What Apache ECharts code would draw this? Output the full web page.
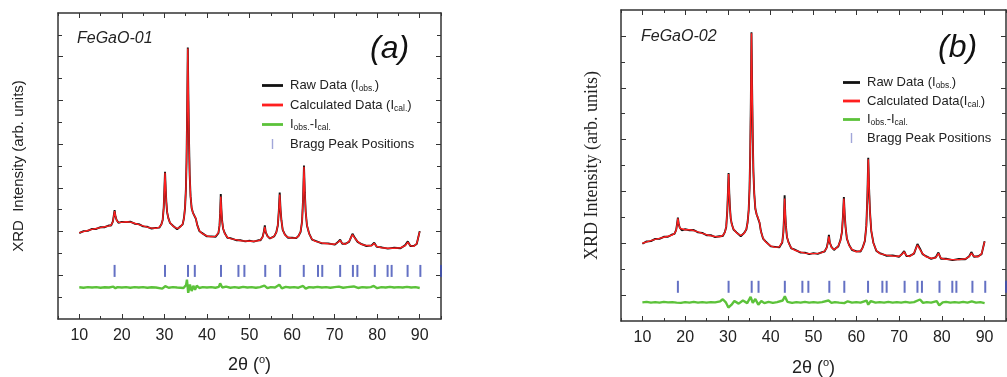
<!DOCTYPE html>
<html>
<head>
<meta charset="utf-8">
<script src="https://cdn.jsdelivr.net/npm/echarts@6/dist/echarts.min.js"></script>
<style>
  html, body { margin: 0; padding: 0; background: #fff; }
  #chart { width: 1007px; height: 377px; }
</style>
</head>
<body>
<div id="chart"></div>
<script>
// tick positions
const xMajor = [10, 20, 30, 40, 50, 60, 70, 80, 90];
const xMinor = [5, 15, 25, 35, 45, 55, 65, 75, 85, 95];
const yMajorA = [2, 4, 6, 8, 10, 12];
const yMinorA = [1, 3, 5, 7, 9, 11, 13];
const yMajorB = [1, 3, 5, 7, 9, 11];
const yMinorB = [2, 4, 6, 8, 10];

// Bragg peak positions (2theta) and the level they are drawn at
const braggPos = [18.3, 30.15, 35.55, 37.15, 43.3, 47.4, 48.8, 53.7, 57.2, 62.75, 66.1, 67.1,
  71.3, 74.3, 75.35, 79.45, 82.45, 83.4, 87.15, 90.15, 95.0];
const braggLevelA = 2.2;
const braggLevelB = 1.32;

// FeGaO-01 calculated
const calcA = [
  [10, 3.95], [11, 4.0], [12, 4.05], [13, 4.1], [14, 4.14], [15, 4.18], [16, 4.22], [17, 4.26],
  [17.5, 4.3], [17.9, 4.45], [18.1, 4.7], [18.3, 4.94], [18.5, 4.72], [18.75, 4.52], [19.2, 4.42],
  [20, 4.42], [21, 4.45], [22, 4.43], [23, 4.38], [24, 4.32], [25, 4.26], [26, 4.2], [27, 4.16],
  [28, 4.15], [28.8, 4.2], [29.3, 4.32], [29.6, 4.55], [29.85, 5.1], [30.0, 5.9], [30.15, 6.69],
  [30.3, 6.0], [30.45, 5.35], [30.65, 4.9], [30.9, 4.62], [31.3, 4.42], [32, 4.25], [33, 4.14],
  [33.8, 4.22], [34.3, 4.35], [34.6, 4.6], [34.85, 5.1], [35.05, 5.9], [35.2, 7.2], [35.35, 9.4],
  [35.5, 12.38], [35.65, 10.0], [35.8, 8.0], [35.95, 6.6], [36.15, 5.6], [36.4, 5.1], [36.7, 4.85],
  [36.95, 4.78], [37.15, 4.85], [37.4, 4.6], [37.7, 4.3], [38.2, 4.05], [38.8, 3.92], [40, 3.8],
  [41, 3.76], [42, 3.78], [42.3, 3.82], [42.7, 3.95], [42.95, 4.25], [43.1, 4.8], [43.25, 5.6],
  [43.4, 5.0], [43.55, 4.5], [43.8, 4.15], [44.2, 3.9], [44.8, 3.74], [45.5, 3.68], [47, 3.62],
  [48, 3.58], [49, 3.57], [50, 3.56], [51, 3.56], [52, 3.58], [52.6, 3.62], [53.1, 3.75], [53.4, 4.0],
  [53.6, 4.22], [53.8, 4.0], [54.2, 3.78], [54.8, 3.7], [55.3, 3.72], [55.8, 3.8], [56.3, 3.95],
  [56.65, 4.3], [56.9, 4.95], [57.1, 5.7], [57.3, 5.0], [57.5, 4.5], [57.8, 4.1], [58.3, 3.85],
  [59, 3.74], [60, 3.7], [61, 3.72], [61.5, 3.78], [62.0, 4.0], [62.35, 4.45], [62.6, 5.5],
  [62.8, 6.97], [63.0, 5.8], [63.2, 4.9], [63.5, 4.3], [64.0, 3.9], [64.7, 3.65], [65.5, 3.55],
  [67, 3.48], [68.5, 3.44], [70, 3.42], [70.8, 3.5], [71.3, 3.6], [71.8, 3.46], [72.5, 3.42],
  [73.4, 3.55], [74.2, 3.86], [74.8, 3.68], [75.4, 3.55], [76.2, 3.42], [77.5, 3.36], [78.7, 3.35],
  [79.3, 3.46], [79.9, 3.32], [81, 3.26], [82.5, 3.24], [84, 3.24], [85.5, 3.26], [86.6, 3.36],
  [87.2, 3.52], [87.8, 3.36], [88.6, 3.32], [89.3, 3.45], [90, 4.0]
];
// FeGaO-01 observed
const obsA = [
  [10, 3.93], [11, 4.02], [12, 4.03], [13, 4.12], [14, 4.12], [15, 4.2], [16, 4.2], [17, 4.28],
  [17.5, 4.28], [17.9, 4.47], [18.1, 4.72], [18.3, 4.98], [18.5, 4.7], [18.75, 4.54], [19.2, 4.4],
  [20, 4.44], [21, 4.43], [22, 4.45], [23, 4.36], [24, 4.34], [25, 4.24], [26, 4.22], [27, 4.14],
  [28, 4.17], [28.8, 4.18], [29.3, 4.34], [29.6, 4.53], [29.85, 5.12], [30.0, 5.92], [30.15, 6.73],
  [30.3, 5.98], [30.45, 5.37], [30.65, 4.88], [30.9, 4.64], [31.3, 4.4], [32, 4.27], [33, 4.11],
  [33.8, 4.24], [34.3, 4.33], [34.6, 4.62], [34.85, 5.08], [35.05, 5.92], [35.2, 7.18], [35.35, 9.42],
  [35.5, 12.42], [35.65, 9.98], [35.8, 8.02], [35.95, 6.58], [36.15, 5.62], [36.4, 5.08], [36.7, 4.87],
  [36.95, 4.82], [37.15, 4.9], [37.4, 4.58], [37.7, 4.32], [38.2, 4.03], [38.8, 3.94], [40, 3.78],
  [41, 3.78], [42, 3.76], [42.3, 3.84], [42.7, 3.93], [42.95, 4.27], [43.1, 4.82], [43.25, 5.72],
  [43.4, 4.98], [43.55, 4.52], [43.8, 4.13], [44.2, 3.92], [44.8, 3.72], [45.5, 3.7], [47, 3.6],
  [48, 3.6], [49, 3.55], [50, 3.58], [51, 3.54], [52, 3.6], [52.6, 3.6], [53.1, 3.77], [53.4, 4.02],
  [53.6, 4.28], [53.8, 3.98], [54.2, 3.8], [54.8, 3.68], [55.3, 3.74], [55.8, 3.78], [56.3, 3.97],
  [56.65, 4.28], [56.9, 4.97], [57.1, 5.78], [57.3, 4.98], [57.5, 4.52], [57.8, 4.08], [58.3, 3.87],
  [59, 3.72], [60, 3.72], [61, 3.7], [61.5, 3.8], [62.0, 3.98], [62.35, 4.47], [62.6, 5.52],
  [62.8, 7.02], [63.0, 5.78], [63.2, 4.92], [63.5, 4.28], [64.0, 3.92], [64.7, 3.63], [65.5, 3.57],
  [67, 3.46], [68.5, 3.46], [70, 3.4], [70.8, 3.52], [71.3, 3.63], [71.8, 3.44], [72.5, 3.44],
  [73.4, 3.53], [74.2, 3.9], [74.8, 3.7], [75.4, 3.53], [76.2, 3.44], [77.5, 3.34], [78.7, 3.37],
  [79.3, 3.49], [79.9, 3.3], [81, 3.28], [82.5, 3.22], [84, 3.26], [85.5, 3.24], [86.6, 3.38],
  [87.2, 3.55], [87.8, 3.34], [88.6, 3.34], [89.3, 3.43], [90, 4.02]
];
// FeGaO-01 difference
const diffA = [
  [10, 1.45], [11, 1.43], [12, 1.46], [13, 1.44], [14, 1.46], [15, 1.43], [16, 1.45], [17, 1.44],
  [18, 1.48], [18.5, 1.41], [19, 1.46], [20, 1.44], [21, 1.46], [22, 1.43], [23, 1.46], [24, 1.44],
  [25, 1.46], [26, 1.43], [27, 1.45], [28, 1.44], [29.5, 1.39], [30.2, 1.5], [31, 1.43], [32, 1.46],
  [33, 1.44], [34.5, 1.42], [35.1, 1.56], [35.3, 1.8], [35.6, 1.2], [36.0, 1.58], [36.4, 1.28],
  [36.8, 1.52], [37.2, 1.34], [37.6, 1.52], [38.2, 1.42], [39, 1.46], [40, 1.44], [41, 1.46],
  [42, 1.43], [42.8, 1.47], [43.1, 1.63], [43.6, 1.44], [44.5, 1.48], [45.5, 1.43], [46.5, 1.46],
  [47.5, 1.43], [48.5, 1.47], [49.5, 1.44], [50.5, 1.46], [51.5, 1.43], [52.5, 1.46], [53.5, 1.53],
  [54.2, 1.41], [55, 1.46], [56, 1.44], [57.0, 1.57], [57.6, 1.4], [58.5, 1.47], [59.5, 1.44],
  [60.5, 1.46], [61.5, 1.43], [62.6, 1.51], [63.2, 1.39], [64, 1.46], [65, 1.44], [66, 1.47],
  [67, 1.44], [68, 1.46], [69, 1.43], [70, 1.46], [71, 1.48], [72, 1.43], [73, 1.46], [74.5, 1.49],
  [75.5, 1.42], [76.5, 1.46], [77.5, 1.44], [78.5, 1.46], [79.2, 1.51], [80, 1.41], [81, 1.46],
  [82, 1.44], [83, 1.47], [84, 1.44], [85, 1.46], [86, 1.44], [87, 1.47], [88, 1.44], [89, 1.46], [90, 1.42]
];

// FeGaO-02 calculated
const calcB = [
  [10, 3.0], [11, 3.05], [12, 3.1], [13, 3.15], [14, 3.19], [15, 3.23], [16, 3.27], [17, 3.32],
  [17.5, 3.38], [17.9, 3.5], [18.1, 3.72], [18.3, 3.96], [18.5, 3.75], [18.75, 3.58], [19.2, 3.52],
  [20, 3.52], [21, 3.52], [22, 3.49], [23, 3.44], [24, 3.38], [25, 3.33], [26, 3.29], [27, 3.26],
  [28, 3.25], [28.8, 3.3], [29.3, 3.42], [29.6, 3.65], [29.85, 4.25], [30.0, 4.95], [30.15, 5.67],
  [30.3, 5.0], [30.45, 4.4], [30.65, 3.98], [30.9, 3.72], [31.3, 3.55], [32, 3.4], [33, 3.3],
  [33.8, 3.38], [34.3, 3.55], [34.6, 3.8], [34.85, 4.3], [35.05, 5.1], [35.2, 6.4], [35.35, 8.4],
  [35.5, 11.1], [35.65, 9.0], [35.8, 7.1], [35.95, 5.8], [36.15, 4.9], [36.4, 4.35], [36.7, 4.1],
  [36.95, 4.02], [37.15, 4.05], [37.4, 3.8], [37.7, 3.45], [38.2, 3.2], [38.8, 3.05], [40, 2.9],
  [41, 2.84], [42, 2.86], [42.3, 2.9], [42.7, 3.05], [42.95, 3.4], [43.1, 3.95], [43.25, 4.73],
  [43.4, 4.15], [43.55, 3.65], [43.8, 3.25], [44.2, 3.0], [44.8, 2.82], [45.5, 2.74], [47, 2.66],
  [48, 2.62], [49, 2.6], [50, 2.6], [51, 2.61], [52, 2.64], [52.6, 2.7], [53.1, 2.82], [53.4, 3.05],
  [53.6, 3.27], [53.8, 3.05], [54.2, 2.84], [54.8, 2.76], [55.3, 2.8], [55.8, 2.9], [56.3, 3.1],
  [56.65, 3.45], [56.9, 4.05], [57.1, 4.73], [57.3, 4.1], [57.5, 3.6], [57.8, 3.2], [58.3, 2.92],
  [59, 2.76], [60, 2.67], [61, 2.7], [61.5, 2.82], [62.0, 3.1], [62.35, 3.65], [62.6, 4.8],
  [62.8, 6.24], [63.0, 5.1], [63.2, 4.2], [63.5, 3.5], [64.0, 3.0], [64.7, 2.72], [65.5, 2.6],
  [67, 2.54], [68.5, 2.51], [70, 2.5], [70.7, 2.57], [71.2, 2.67], [71.7, 2.53], [72.5, 2.49],
  [73.5, 2.62], [74.3, 2.93], [74.9, 2.75], [75.5, 2.6], [76.3, 2.48], [77.5, 2.42], [78.6, 2.44],
  [79.2, 2.61], [79.8, 2.42], [81, 2.38], [82.5, 2.37], [84, 2.37], [85.5, 2.4], [86.4, 2.48],
  [86.9, 2.62], [87.5, 2.5], [88.5, 2.48], [89.3, 2.6], [90, 3.06]
];
// FeGaO-02 observed
const obsB = [
  [10, 2.98], [11, 3.07], [12, 3.08], [13, 3.17], [14, 3.17], [15, 3.25], [16, 3.25], [17, 3.34],
  [17.5, 3.36], [17.9, 3.52], [18.1, 3.74], [18.3, 3.99], [18.5, 3.73], [18.75, 3.6], [19.2, 3.5],
  [20, 3.54], [21, 3.5], [22, 3.51], [23, 3.42], [24, 3.4], [25, 3.31], [26, 3.31], [27, 3.24],
  [28, 3.27], [28.8, 3.28], [29.3, 3.44], [29.6, 3.63], [29.85, 4.27], [30.0, 4.97], [30.15, 5.71],
  [30.3, 4.98], [30.45, 4.42], [30.65, 3.96], [30.9, 3.74], [31.3, 3.53], [32, 3.42], [33, 3.27],
  [33.8, 3.4], [34.3, 3.53], [34.6, 3.82], [34.85, 4.28], [35.05, 5.12], [35.2, 6.38], [35.35, 8.42],
  [35.5, 11.14], [35.65, 8.98], [35.8, 7.12], [35.95, 5.78], [36.15, 4.92], [36.4, 4.33], [36.7, 4.12],
  [36.95, 4.06], [37.15, 4.1], [37.4, 3.78], [37.7, 3.47], [38.2, 3.18], [38.8, 3.07], [40, 2.88],
  [41, 2.86], [42, 2.84], [42.3, 2.92], [42.7, 3.03], [42.95, 3.42], [43.1, 3.97], [43.25, 4.85],
  [43.4, 4.13], [43.55, 3.67], [43.8, 3.23], [44.2, 3.02], [44.8, 2.8], [45.5, 2.76], [47, 2.64],
  [48, 2.64], [49, 2.58], [50, 2.62], [51, 2.59], [52, 2.66], [52.6, 2.68], [53.1, 2.84], [53.4, 3.07],
  [53.6, 3.32], [53.8, 3.03], [54.2, 2.86], [54.8, 2.74], [55.3, 2.82], [55.8, 2.88], [56.3, 3.12],
  [56.65, 3.43], [56.9, 4.07], [57.1, 4.78], [57.3, 4.08], [57.5, 3.62], [57.8, 3.18], [58.3, 2.94],
  [59, 2.74], [60, 2.69], [61, 2.68], [61.5, 2.84], [62.0, 3.08], [62.35, 3.67], [62.6, 4.82],
  [62.8, 6.3], [63.0, 5.08], [63.2, 4.22], [63.5, 3.48], [64.0, 3.02], [64.7, 2.7], [65.5, 2.62],
  [67, 2.52], [68.5, 2.53], [70, 2.48], [70.7, 2.59], [71.2, 2.7], [71.7, 2.51], [72.5, 2.51],
  [73.5, 2.6], [74.3, 2.97], [74.9, 2.79], [75.5, 2.58], [76.3, 2.5], [77.5, 2.4], [78.6, 2.46],
  [79.2, 2.64], [79.8, 2.4], [81, 2.4], [82.5, 2.35], [84, 2.39], [85.5, 2.38], [86.4, 2.5],
  [86.9, 2.66], [87.5, 2.48], [88.5, 2.5], [89.3, 2.58], [90, 3.08]
];
// FeGaO-02 difference
const diffB = [
  [10, 0.72], [11, 0.74], [12, 0.71], [13, 0.73], [14, 0.71], [15, 0.74], [16, 0.72], [17, 0.73],
  [18, 0.71], [18.4, 0.76], [19, 0.7], [20, 0.73], [21, 0.71], [22, 0.74], [23, 0.71], [24, 0.73],
  [25, 0.71], [26, 0.73], [27, 0.72], [28.2, 0.76], [28.8, 0.84], [29.5, 0.72], [30.1, 0.52],
  [30.8, 0.62], [31.5, 0.77], [32.5, 0.67], [33.5, 0.79], [34.5, 0.69], [35.3, 0.93], [35.8, 0.7],
  [36.4, 0.85], [37.1, 0.63], [37.8, 0.77], [38.5, 0.69], [39.5, 0.74], [40.5, 0.7], [41.5, 0.73],
  [42.8, 0.79], [43.3, 0.95], [43.9, 0.74], [45, 0.7], [46, 0.73], [47, 0.71], [48, 0.74], [49, 0.71],
  [50, 0.73], [51, 0.71], [52, 0.73], [53.5, 0.79], [54.2, 0.7], [55, 0.73], [56, 0.71], [57.2, 0.69],
  [58, 0.76], [59, 0.71], [60, 0.73], [61, 0.71], [62.4, 0.79], [62.8, 0.63], [63.4, 0.77], [64.5, 0.71],
  [65.5, 0.73], [66.5, 0.71], [67.5, 0.74], [68.5, 0.71], [69.5, 0.73], [70.5, 0.71], [71.5, 0.74],
  [72.5, 0.71], [73.5, 0.73], [74.9, 0.83], [75.6, 0.7], [76.5, 0.73], [77.5, 0.71], [78.8, 0.77],
  [79.4, 0.6], [80.2, 0.72], [81, 0.74], [82, 0.71], [83, 0.73], [84, 0.71], [85, 0.74], [86, 0.71],
  [87, 0.76], [88, 0.71], [89, 0.73], [90, 0.69]
];

const legendText = {
  obsA: '{t|Raw Data (I}{s|obs.}{t|)}',
  calcA: '{t|Calculated Data (I}{s|cal.}{t|)}',
  diffA: '{t|I}{s|obs.}{t|-I}{s|cal.}',
  braggA: '{t|Bragg Peak Positions}',
  obsB: '{t|Raw Data (I}{s|obs.}{t|)}',
  calcB: '{t|Calculated Data(I}{s|cal.}{t|)}',
  diffB: '{t|I}{s|obs.}{t|-I}{s|cal.}',
  braggB: '{t|Bragg Peak Positions}',
};

const SANS = 'Liberation Sans, Arial, sans-serif';
const SERIF = 'Liberation Serif, Times New Roman, serif';
const frameColor = '#333';

function xAxes(g, nameGap, labelMargin) {
  const line = { show: true, onZero: false, lineStyle: { color: frameColor, width: 1.5 } };
  const base = {
    gridIndex: g, type: 'value', min: 5, max: 95,
    splitLine: { show: false }, axisLabel: { show: false },
    axisLine: { show: false, onZero: false },
  };
  const tick = (vals, len) => ({ show: true, inside: true, length: len, customValues: vals, lineStyle: { color: frameColor, width: 1 } });
  return [
    {
      ...base, position: 'bottom', axisLine: line, axisTick: tick(xMajor, 5),
      axisLabel: { show: true, customValues: xMajor, margin: labelMargin, fontSize: 16, color: '#222', fontFamily: SANS },
      name: '2θ ({sup|o})', nameLocation: 'middle', nameGap: nameGap,
      nameTextStyle: {
        fontSize: 18, color: '#222', fontFamily: SANS, lineHeight: 22,
        rich: { sup: { fontSize: 11, lineHeight: 14, verticalAlign: 'top', color: '#222', fontFamily: SANS } },
      },
    },
    { ...base, position: 'bottom', axisTick: tick(xMinor, 3) },
    { ...base, position: 'top', axisLine: line, axisTick: tick(xMajor, 5) },
    { ...base, position: 'top', axisTick: tick(xMinor, 3) },
  ];
}

function yAxes(g, max, major, minor, name, nameGap, nameStyle) {
  const line = { show: true, onZero: false, lineStyle: { color: frameColor, width: 1.5 } };
  const base = {
    gridIndex: g, type: 'value', min: 0, max: max,
    splitLine: { show: false }, axisLabel: { show: false },
    axisLine: { show: false, onZero: false },
  };
  const tick = (vals, len) => ({ show: true, inside: true, length: len, customValues: vals, lineStyle: { color: frameColor, width: 1 } });
  return [
    {
      ...base, position: 'left', axisLine: line, axisTick: tick(major, 5),
      name: name, nameLocation: 'middle', nameGap: nameGap, nameTextStyle: nameStyle,
    },
    { ...base, position: 'left', axisTick: tick(minor, 4) },
    { ...base, position: 'right', axisLine: line, axisTick: tick(major, 5) },
    { ...base, position: 'right', axisTick: tick(minor, 4) },
  ];
}

function panelSeries(tag, axisIdx, obs, calc, diff, braggLevel) {
  return [
    {
      name: 'diff' + tag, type: 'line', xAxisIndex: axisIdx, yAxisIndex: axisIdx, data: diff,
      showSymbol: false, symbol: 'none', lineStyle: { color: '#5cc23a', width: 2.4 }, itemStyle: { color: '#5cc23a' },
    },
    {
      name: 'bragg' + tag, type: 'scatter', xAxisIndex: axisIdx, yAxisIndex: axisIdx,
      data: braggPos.map((p) => [p, braggLevel]),
      symbol: 'rect', symbolSize: [2, 12], itemStyle: { color: '#3d4db5' },
    },
    {
      name: 'obs' + tag, type: 'line', xAxisIndex: axisIdx, yAxisIndex: axisIdx, data: obs,
      showSymbol: false, symbol: 'none', lineStyle: { color: '#111', width: 1.9 }, itemStyle: { color: '#111' },
    },
    {
      name: 'calc' + tag, type: 'line', xAxisIndex: axisIdx, yAxisIndex: axisIdx, data: calc,
      showSymbol: false, symbol: 'none', lineStyle: { color: '#ff1f1f', width: 1.4 }, itemStyle: { color: '#ff1f1f' },
    },
  ];
}

function legendFor(tag, left, top, w, gap) {
  const lineIcon = `path://M0,0M${w},12M0,4.6h${w}v2.8h-${w}z`;
  const mid = w / 2;
  const braggIcon = `path://M0,0M${w},12M${mid - 0.7},1h1.4v10h-1.4z`;
  return {
    left: left, top: top, orient: 'vertical', padding: 0,
    itemWidth: w, itemHeight: 12, itemGap: gap, selectedMode: false,
    data: [
      { name: 'obs' + tag, icon: lineIcon },
      { name: 'calc' + tag, icon: lineIcon },
      { name: 'diff' + tag, icon: lineIcon },
      { name: 'bragg' + tag, icon: braggIcon, itemStyle: { color: '#8a90d0' } },
    ],
    formatter: (n) => legendText[n],
    textStyle: {
      fontFamily: SANS, fontSize: 13, color: '#222', padding: [0, 0, 0, 2],
      rich: {
        t: { fontSize: 13, lineHeight: 16, color: '#222', fontFamily: SANS },
        s: { fontSize: 8.5, lineHeight: 9, verticalAlign: 'bottom', color: '#222', fontFamily: SANS },
      },
    },
  };
}

const chart = echarts.init(document.getElementById('chart'));
chart.setOption({
  backgroundColor: '#fff',
  animation: false,
  title: [
    { text: 'FeGaO-01', left: 77, top: 31, padding: 0, textStyle: { fontStyle: 'italic', fontWeight: 'normal', fontSize: 16, color: '#222', fontFamily: SANS } },
    { text: '(a)', left: 370, top: 33, padding: 0, textStyle: { fontStyle: 'italic', fontWeight: 'normal', fontSize: 32, color: '#111', fontFamily: SANS } },
    { text: 'FeGaO-02', left: 641, top: 29, padding: 0, textStyle: { fontStyle: 'italic', fontWeight: 'normal', fontSize: 16, color: '#222', fontFamily: SANS } },
    { text: '(b)', left: 938, top: 32, padding: 0, textStyle: { fontStyle: 'italic', fontWeight: 'normal', fontSize: 32, color: '#111', fontFamily: SANS } },
  ],
  legend: [legendFor('A', 262, 79, 21, 5), legendFor('B', 843, 76, 17, 4)],
  grid: [
    { left: 58, top: 13, width: 383, height: 306, outerBoundsMode: 'none' },
    { left: 621, top: 10, width: 385, height: 311, outerBoundsMode: 'none' },
  ],
  xAxis: [...xAxes(0, 35, 9), ...xAxes(1, 36, 9)],
  yAxis: [
    ...yAxes(0, 14, yMajorA, yMinorA, 'XRD  Intensity (arb. units)', 32,
      { fontSize: 15, color: '#222', fontFamily: SANS }),
    ...yAxes(1, 12, yMajorB, yMinorB, 'XRD Intensity (arb. units)', 20,
      { fontSize: 18, color: '#222', fontFamily: SERIF }),
  ],
  series: [
    ...panelSeries('A', 0, obsA, calcA, diffA, braggLevelA),
    ...panelSeries('B', 4, obsB, calcB, diffB, braggLevelB),
  ],
});
</script>
</body>
</html>
